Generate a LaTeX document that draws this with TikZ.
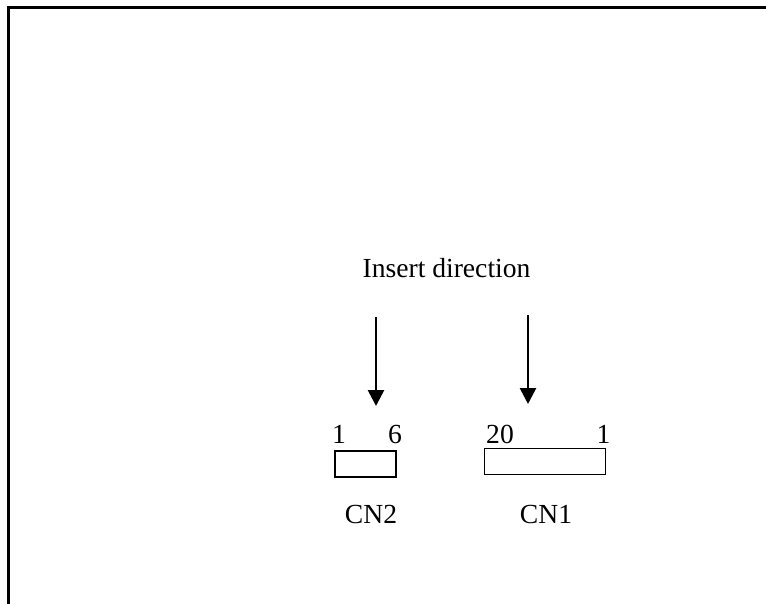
\documentclass[tikz,border=0pt]{standalone}
\usepackage{fontspec}
\setmainfont{Liberation Serif}
\usetikzlibrary{arrows.meta}
\tikzset{
  frameline/.style={line width=3.6pt, line join=miter},
  lbl/.style={anchor=base, inner sep=0pt, font=\fontsize{27.6}{32}\selectfont},
  conn/.style={draw, line width=1.6pt, inner sep=0pt, minimum height=26pt},
  insarrow/.style={line width=2.7pt, -{Triangle[width=16pt,length=16pt]}}
}
\begin{document}
\begin{tikzpicture}[x=1pt,y=-1pt]
\useasboundingbox (0,0) rectangle (766,604);
% frame (top and left only)
\draw[frameline] (8.3,604) -- (8.3,7.5) -- (766,7.5);
% title
\node[lbl] (title) at (446.5,278) {Insert direction};
% arrows
\coordinate (a2s) at (376,317);
\coordinate (a2e) at (376,406);
\coordinate (a1s) at (528,315);
\coordinate (a1e) at (528,404);
\draw[insarrow] (a2s) -- (a2e);
\draw[insarrow] (a1s) -- (a1e);
% connector boxes
\node[conn, minimum width=61pt] (cn2box) at (365.5,463.7) {};
\node[conn, minimum width=121pt] (cn1box) at (545,461.3) {};
% pin numbers
\node[lbl] (p2a) at (339,443) {1};
\node[lbl] (p2b) at (395,443) {6};
\node[lbl] (p1a) at (500,443) {20};
\node[lbl] (p1b) at (603.5,443) {1};
% names
\node[lbl] (cn2) at (371,523) {CN2};
\node[lbl] (cn1) at (546,523) {CN1};
\end{tikzpicture}
\end{document}
